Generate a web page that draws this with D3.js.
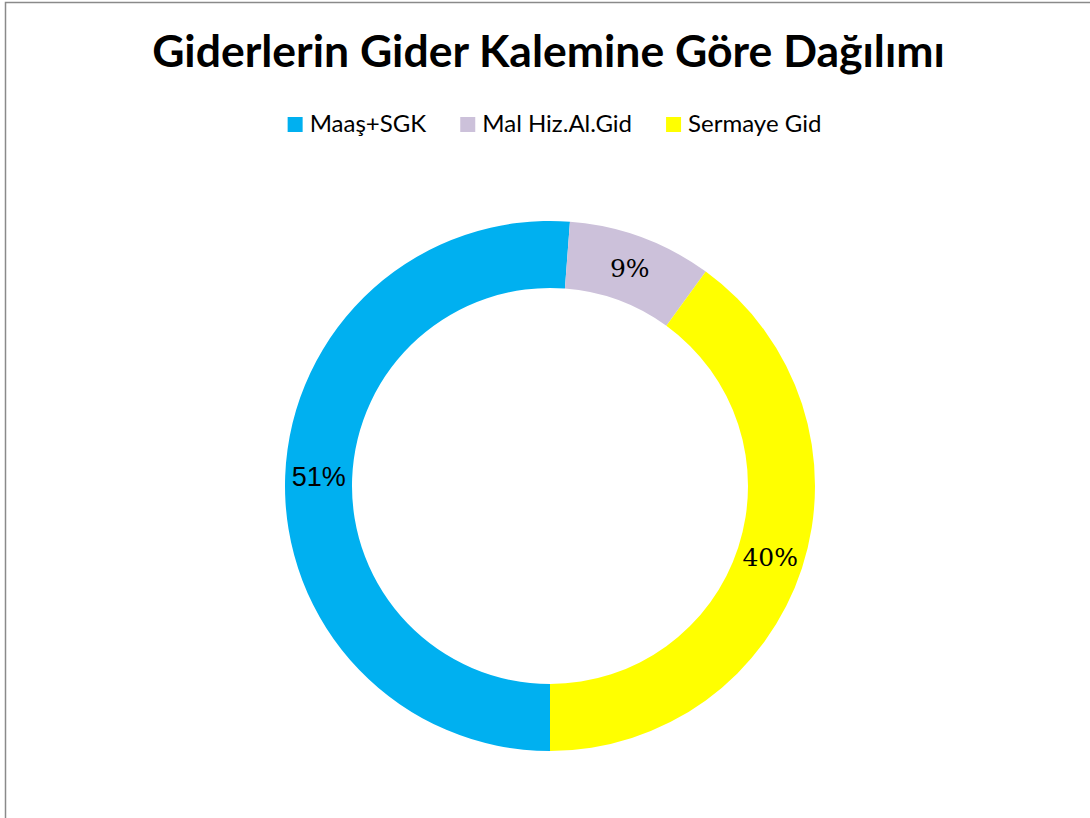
<!DOCTYPE html>
<html>
<head>
<meta charset="utf-8">
<script src="https://cdn.jsdelivr.net/npm/d3@7"></script>
<style>
  html, body { margin: 0; padding: 0; background: #fff; }
  svg { display: block; }
</style>
</head>
<body>
<svg id="chart" width="1090" height="818"></svg>
<script>
const titleText = "Giderlerin Gider Kalemine Göre Dağılımı";
const categories = ["Maaş+SGK", "Mal Hiz.Al.Gid", "Sermaye Gid"];
const values = [51.2, 8.8, 40.0];
const colors = ["#00B0F0", "#CCC1DA", "#FFFF00"];
const labelFamilies = [
  "'Liberation Sans', Arial, sans-serif",
  "'DejaVu Serif', 'Liberation Serif', serif",
  "'DejaVu Serif', 'Liberation Serif', serif"
];

const svg = d3.select("#chart");
const W = 1090, H = 818;
const sansFont = "Lato, 'Liberation Sans', Arial, sans-serif";

svg.append("rect")
  .attr("x", 5.5).attr("y", 2.5)
  .attr("width", W + 20).attr("height", H + 20)
  .attr("fill", "none").attr("stroke", "#8a8a8a").attr("stroke-width", 1.5);

function fitText(sel, targetW) {
  const w = sel.node().getComputedTextLength();
  const fs = parseFloat(sel.style("font-size"));
  sel.style("font-size", (fs * targetW / w) + "px");
}
const title = svg.append("text")
  .attr("x", 548.5).attr("y", 67)
  .attr("text-anchor", "middle")
  .style("font-family", sansFont)
  .style("font-weight", "bold")
  .style("font-size", "36px")
  .attr("fill", "#000")
  .text(titleText);
fitText(title, 793);

// Legend
const legend = svg.append("g");
const legItems = legend.selectAll("g").data(categories).join("g");
legItems.append("rect")
  .attr("width", 15).attr("height", 15)
  .attr("y", 117)
  .attr("fill", (d, i) => colors[i]);
const legTexts = legItems.append("text")
  .attr("y", 132)
  .style("font-family", sansFont)
  .style("font-size", "20px")
  .attr("fill", "#000")
  .text(d => d);
let totalW = 0;
legTexts.each(function () { totalW += this.getComputedTextLength(); });
legTexts.style("font-size", (20 * 400 / totalW) + "px");
let xCur = 0;
const positions = [];
legTexts.each(function () {
  positions.push(xCur);
  xCur += 22 + this.getComputedTextLength() + 34;
});
const legWidth = xCur - 34;
const legStart = 554.5 - legWidth / 2;
legItems.attr("transform", (d, i) => `translate(${legStart + positions[i]},0)`);
legTexts.attr("x", 22);

// Donut
const cx = 550, cy = 486, R = 265, r = 198;
const total = d3.sum(values);
const pie = d3.pie().sort(null).value(d => d).startAngle(Math.PI).endAngle(3 * Math.PI);
const arc = d3.arc().innerRadius(r).outerRadius(R);
const arcs = pie(values);
const g = svg.append("g").attr("transform", `translate(${cx},${cy})`);
g.selectAll("path").data(arcs).join("path")
  .attr("d", arc)
  .attr("fill", (d, i) => colors[i]);

const labelSizes = [27, 25, 25];
g.selectAll("text.lbl").data(arcs).join("text")
  .attr("class", "lbl")
  .attr("x", d => arc.centroid(d)[0])
  .attr("y", d => arc.centroid(d)[1])
  .attr("text-anchor", "middle")
  .attr("dominant-baseline", "central")
  .style("font-family", (d, i) => labelFamilies[i])
  .style("font-size", (d, i) => labelSizes[i] + "px")
  .attr("fill", "#000")
  .text(d => Math.round(d.data / total * 100) + "%");
</script>
</body>
</html>
